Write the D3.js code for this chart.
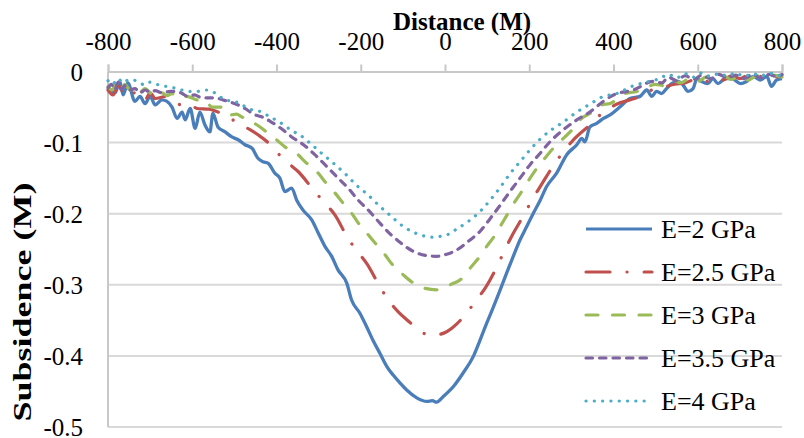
<!DOCTYPE html>
<html><head><meta charset="utf-8">
<script src="https://cdn.jsdelivr.net/npm/d3@7"></script>
</head><body style="margin:0;background:#fff"><svg id="c" width="804" height="438" style="display:block"></svg>
<script>
const xTicks = [-800,-600,-400,-200,0,200,400,600,800];
const yTicks = [0,-0.1,-0.2,-0.3,-0.4,-0.5];
const seriesNames = ["E=2 GPa","E=2.5 GPa","E=3 GPa","E=3.5 GPa","E=4 GPa"];
const xTitle = "Distance (M)";
const yTitle = "Subsidence (M)";

const e2 = [[-800,-0.024],[-790,-0.028],[-783,-0.030],[-772,-0.014],[-764,-0.033],[-753,-0.016],[-736,-0.042],[-724,-0.035],[-712,-0.045],[-700,-0.035],[-688,-0.047],[-672,-0.040],[-660,-0.042],[-648,-0.050],[-636,-0.066],[-624,-0.057],[-617,-0.068],[-605,-0.052],[-593,-0.080],[-582,-0.057],[-570,-0.075],[-558,-0.085],[-551,-0.059],[-539,-0.078],[-522,-0.085],[-506,-0.092],[-491,-0.096],[-475,-0.103],[-458,-0.108],[-444,-0.122],[-432,-0.127],[-420,-0.129],[-404,-0.143],[-392,-0.150],[-380,-0.169],[-364,-0.164],[-352,-0.181],[-337,-0.195],[-316,-0.209],[-301,-0.227],[-285,-0.246],[-269,-0.260],[-254,-0.279],[-233,-0.298],[-222,-0.321],[-202,-0.340],[-186,-0.359],[-171,-0.378],[-154,-0.397],[-138,-0.415],[-123,-0.427],[-107,-0.438],[-91,-0.448],[-67,-0.459],[-43,-0.464],[-30,-0.463],[-20,-0.465],[-4,-0.457],[20,-0.443],[43,-0.424],[67,-0.401],[83,-0.378],[99,-0.354],[115,-0.331],[131,-0.307],[146,-0.284],[162,-0.260],[178,-0.237],[194,-0.218],[210,-0.199],[226,-0.181],[241,-0.162],[265,-0.143],[289,-0.117],[313,-0.103],[325,-0.094],[332,-0.099],[344,-0.078],[360,-0.073],[376,-0.066],[392,-0.061],[415,-0.050],[439,-0.038],[463,-0.035],[479,-0.026],[491,-0.035],[502,-0.028],[514,-0.031],[526,-0.024],[538,-0.017],[553,-0.014],[565,-0.019],[577,-0.028],[589,-0.024],[598,-0.010],[609,-0.014],[624,-0.017],[636,-0.010],[648,-0.017],[665,-0.010],[681,-0.010],[701,-0.017],[716,-0.014],[732,-0.007],[748,-0.012],[764,-0.007],[775,-0.021],[787,-0.012],[800,-0.010]];
const e25 = [[-800,-0.026],[-788,-0.033],[-776,-0.020],[-764,-0.028],[-752,-0.022],[-740,-0.030],[-725,-0.030],[-712,-0.040],[-700,-0.030],[-688,-0.038],[-662,-0.035],[-636,-0.045],[-620,-0.048],[-605,-0.046],[-589,-0.052],[-560,-0.053],[-539,-0.057],[-515,-0.062],[-494,-0.073],[-465,-0.081],[-444,-0.089],[-420,-0.100],[-400,-0.113],[-376,-0.127],[-348,-0.141],[-309,-0.169],[-285,-0.185],[-261,-0.202],[-230,-0.235],[-208,-0.253],[-186,-0.270],[-154,-0.303],[-135,-0.321],[-111,-0.338],[-85,-0.352],[-63,-0.364],[-29,-0.371],[4,-0.366],[28,-0.355],[51,-0.340],[75,-0.321],[95,-0.305],[127,-0.270],[142,-0.251],[158,-0.232],[190,-0.199],[207,-0.180],[226,-0.162],[261,-0.129],[281,-0.113],[305,-0.096],[348,-0.073],[374,-0.058],[404,-0.047],[463,-0.035],[491,-0.026],[520,-0.022],[545,-0.018],[570,-0.016],[600,-0.010],[620,-0.014],[640,-0.008],[660,-0.012],[680,-0.006],[700,-0.010],[720,-0.005],[740,-0.009],[760,-0.004],[780,-0.008],[800,-0.005]];
const e3 = [[-800,-0.021],[-790,-0.026],[-780,-0.016],[-770,-0.027],[-760,-0.018],[-748,-0.026],[-736,-0.022],[-724,-0.029],[-712,-0.024],[-700,-0.030],[-688,-0.036],[-672,-0.030],[-660,-0.034],[-648,-0.031],[-634,-0.037],[-620,-0.035],[-605,-0.036],[-589,-0.040],[-575,-0.040],[-565,-0.043],[-553,-0.050],[-535,-0.050],[-522,-0.051],[-510,-0.061],[-495,-0.060],[-482,-0.064],[-458,-0.071],[-439,-0.078],[-420,-0.087],[-400,-0.096],[-380,-0.106],[-349,-0.117],[-332,-0.127],[-301,-0.143],[-285,-0.155],[-261,-0.171],[-245,-0.183],[-222,-0.199],[-206,-0.213],[-186,-0.227],[-162,-0.244],[-142,-0.258],[-127,-0.270],[-99,-0.286],[-79,-0.296],[-47,-0.305],[-20,-0.307],[12,-0.300],[40,-0.291],[59,-0.277],[79,-0.263],[99,-0.246],[119,-0.230],[135,-0.214],[150,-0.199],[166,-0.183],[182,-0.169],[202,-0.150],[218,-0.136],[237,-0.122],[257,-0.108],[281,-0.094],[297,-0.085],[324,-0.066],[344,-0.059],[372,-0.047],[392,-0.045],[427,-0.031],[456,-0.028],[480,-0.022],[500,-0.018],[520,-0.020],[540,-0.012],[560,-0.016],[580,-0.010],[600,-0.014],[620,-0.008],[640,-0.012],[660,-0.006],[680,-0.011],[700,-0.007],[720,-0.012],[740,-0.006],[760,-0.010],[780,-0.005],[800,-0.008]];
const e35 = [[-800,-0.023],[-792,-0.018],[-784,-0.026],[-776,-0.015],[-768,-0.025],[-760,-0.020],[-748,-0.026],[-736,-0.024],[-724,-0.030],[-712,-0.026],[-700,-0.029],[-688,-0.027],[-672,-0.030],[-652,-0.028],[-636,-0.028],[-624,-0.031],[-610,-0.035],[-595,-0.033],[-577,-0.037],[-546,-0.037],[-527,-0.040],[-510,-0.043],[-491,-0.047],[-475,-0.052],[-451,-0.061],[-434,-0.064],[-415,-0.070],[-399,-0.076],[-385,-0.082],[-364,-0.092],[-336,-0.103],[-309,-0.117],[-285,-0.131],[-257,-0.148],[-230,-0.164],[-206,-0.181],[-182,-0.195],[-158,-0.211],[-131,-0.228],[-103,-0.242],[-75,-0.253],[-43,-0.259],[-20,-0.260],[4,-0.257],[28,-0.251],[55,-0.239],[83,-0.225],[107,-0.207],[131,-0.188],[154,-0.169],[178,-0.150],[202,-0.131],[226,-0.115],[249,-0.099],[281,-0.082],[313,-0.068],[344,-0.057],[376,-0.042],[400,-0.033],[447,-0.026],[494,-0.014],[515,-0.016],[530,-0.008],[550,-0.013],[570,-0.006],[590,-0.011],[610,-0.005],[630,-0.010],[650,-0.004],[670,-0.009],[690,-0.005],[710,-0.010],[730,-0.004],[750,-0.009],[770,-0.004],[790,-0.008],[800,-0.004]];
const e4 = [[-800,-0.013],[-790,-0.018],[-776,-0.010],[-764,-0.016],[-752,-0.012],[-740,-0.012],[-725,-0.016],[-712,-0.019],[-700,-0.015],[-688,-0.017],[-675,-0.020],[-660,-0.021],[-636,-0.024],[-610,-0.028],[-589,-0.028],[-565,-0.026],[-541,-0.032],[-522,-0.040],[-499,-0.042],[-482,-0.047],[-458,-0.054],[-440,-0.056],[-415,-0.064],[-396,-0.070],[-376,-0.078],[-362,-0.084],[-347,-0.088],[-332,-0.095],[-318,-0.102],[-289,-0.117],[-261,-0.131],[-233,-0.146],[-210,-0.160],[-182,-0.174],[-154,-0.190],[-127,-0.204],[-99,-0.218],[-67,-0.228],[-28,-0.233],[-12,-0.232],[8,-0.229],[24,-0.223],[55,-0.211],[83,-0.197],[107,-0.181],[131,-0.163],[154,-0.144],[178,-0.127],[202,-0.110],[226,-0.095],[253,-0.082],[281,-0.071],[313,-0.057],[344,-0.046],[376,-0.035],[408,-0.031],[443,-0.021],[491,-0.013],[510,-0.010],[530,-0.004],[550,-0.009],[570,-0.003],[590,-0.008],[610,-0.002],[630,-0.007],[650,-0.003],[670,-0.006],[690,-0.002],[710,-0.007],[730,-0.003],[750,-0.006],[770,-0.002],[790,-0.006],[800,-0.002]];

const colors = ["#4a7ebb","#c0504d","#9bbb59","#8064a2","#4bacc6"];
const dashes = [null,"24,17,0.1,17","12,14.5","6.5,7","0.1,8.2"];
const seriesData = [e2,e25,e3,e35,e4];
const FF = '"Liberation Serif"';

const svg = d3.select("#c");
const x = d3.scaleLinear().domain([-800,800]).range([108,782]);
const y = d3.scaleLinear().domain([-0.5,0]).range([427,71.5]);

// grid
svg.append("g").selectAll("line").data(yTicks.slice(1)).join("line")
  .attr("x1",108).attr("x2",782).attr("y1",d=>y(d)).attr("y2",d=>y(d))
  .attr("stroke","#d9d9d9").attr("stroke-width",2);

// left axis line
svg.append("line").attr("x1",108).attr("x2",108).attr("y1",y(0)).attr("y2",y(-0.5))
  .attr("stroke","#c8c8c8").attr("stroke-width",2);

// top axis
const xAxis = d3.axisTop(x).tickValues(xTicks).tickSize(7).tickFormat(d=>String(d));
const gx = svg.append("g").attr("transform",`translate(0,${y(0)})`).call(xAxis);
gx.select(".domain").attr("stroke","#c8c8c8").attr("stroke-width",2);
gx.selectAll(".tick line").attr("stroke","#c8c8c8").attr("stroke-width",2);
gx.selectAll(".tick text").style("font-family",FF).style("font-size","25px").attr("fill","#000").attr("y",-21.5).attr("dy",0);

// y labels
const yAxis = d3.axisLeft(y).tickValues(yTicks).tickSize(0).tickFormat(d=>d===0?"0":d.toFixed(1));
const gy = svg.append("g").attr("transform","translate(108,0)").call(yAxis);
gy.select(".domain").remove();
gy.selectAll(".tick text").style("font-family",FF).style("font-size","25px").attr("fill","#000").attr("x",-25).attr("dy","0.34em");

// titles
svg.append("text").attr("x",462).attr("y",30).attr("text-anchor","middle")
  .style("font-family",FF).style("font-size","25px").style("font-weight","bold").text(xTitle);
svg.append("text").attr("transform","translate(31,302) rotate(-90) scale(1.44,1)")
  .attr("text-anchor","middle").style("font-family",FF).style("font-size","25px").style("font-weight","bold").text(yTitle);

// series
const line = d3.line().x(d=>x(d[0])).y(d=>y(d[1])).curve(d3.curveMonotoneX);
const gs = svg.append("g");
seriesData.forEach((s,i)=>{
  gs.append("path").datum(s).attr("d",line).attr("fill","none")
    .attr("stroke",colors[i]).attr("stroke-width",i===0?3.3:3.2)
    .attr("stroke-dasharray",dashes[i]).attr("stroke-linecap",i===0?"butt":"round")
    .attr("stroke-linejoin","round");
});

// legend
const lg = svg.append("g");
seriesNames.forEach((n,i)=>{
  const ly = 229 + i*43;
  lg.append("line").attr("x1",586).attr("x2",652).attr("y1",ly).attr("y2",ly)
    .attr("stroke",colors[i]).attr("stroke-width",3.2)
    .attr("stroke-dasharray",dashes[i]).attr("stroke-linecap",i===0?"butt":"round");
  lg.append("text").attr("x",661).attr("y",ly+9).style("font-family",FF).style("font-size","26px").text(n);
});
</script></body></html>
